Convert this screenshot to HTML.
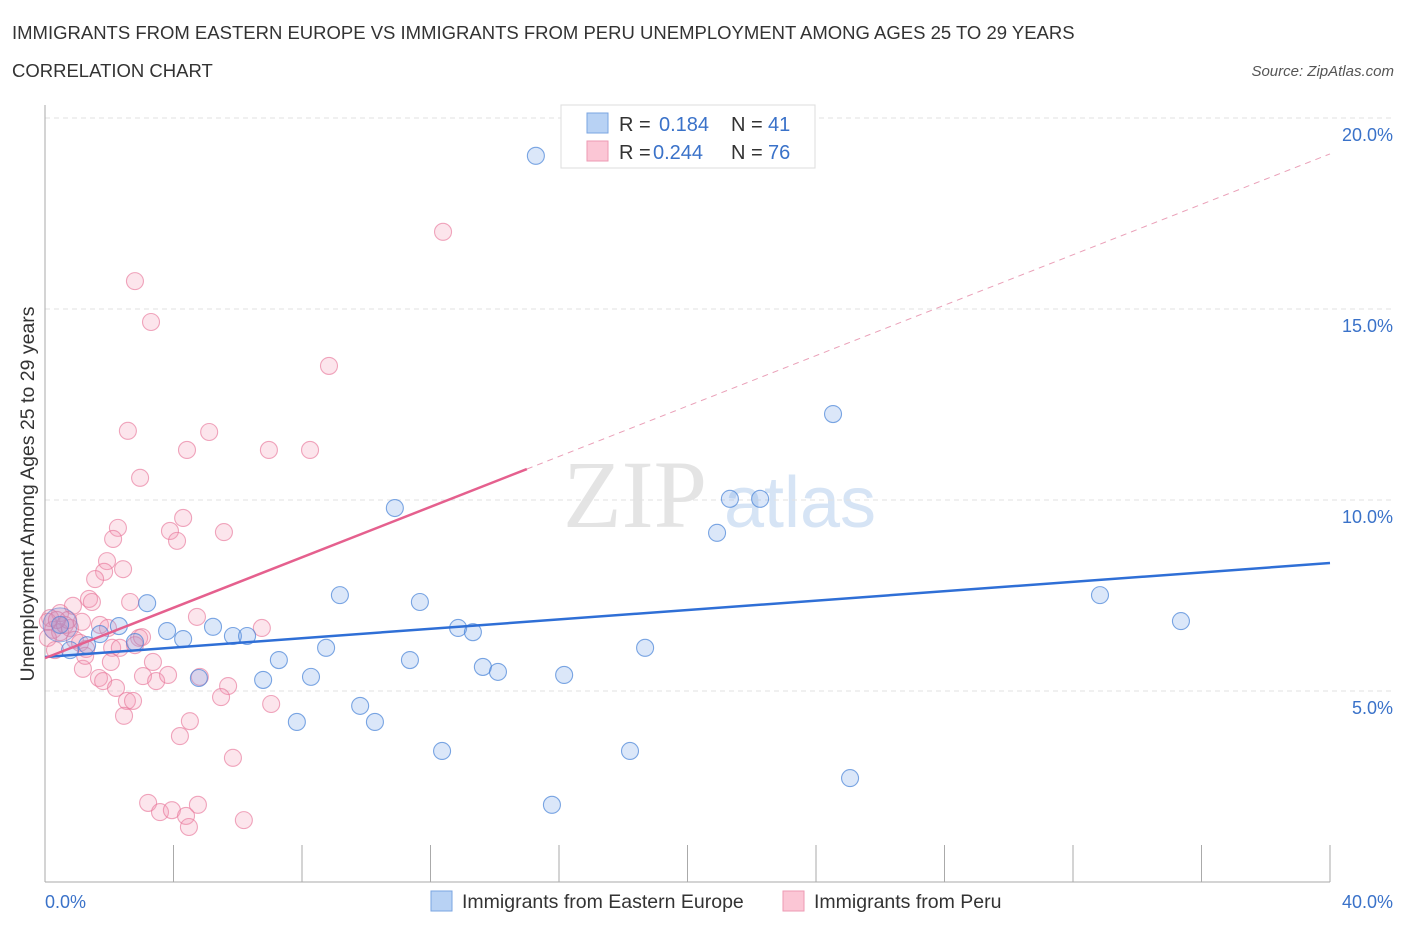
<!DOCTYPE html>
<html><head><meta charset="utf-8"><style>
body{margin:0;background:#fff;font-family:"Liberation Sans",sans-serif;}
svg text{font-family:"Liberation Sans",sans-serif;}
</style></head><body>
<svg id="chart" width="1406" height="930" xmlns="http://www.w3.org/2000/svg">
<text x="12" y="39" font-size="18.5" fill="#333">IMMIGRANTS FROM EASTERN EUROPE VS IMMIGRANTS FROM PERU UNEMPLOYMENT AMONG AGES 25 TO 29 YEARS</text>
<text x="12" y="77" font-size="18.5" fill="#333">CORRELATION CHART</text>
<text x="1394" y="76" font-size="15" fill="#555" font-style="italic" text-anchor="end">Source: ZipAtlas.com</text>
<text x="635" y="527" font-size="96" fill="#e4e4e4" text-anchor="middle" style="font-family:'Liberation Serif',serif">ZIP</text>
<text x="800" y="527" font-size="72" fill="#d6e4f5" text-anchor="middle">atlas</text>
<g id="grid"></g><g id="axes"></g><g id="marks"></g>
<text transform="translate(34,494) rotate(-90)" font-size="19.5" fill="#333" text-anchor="middle">Unemployment Among Ages 25 to 29 years</text>
<g>
<rect x="561" y="105" width="254" height="63" fill="#fff" stroke="#ddd"/>
<rect x="587" y="113" width="21" height="20" fill="#b8d2f4" stroke="#7aa5e2"/>
<rect x="587" y="141" width="21" height="20" fill="#fbc6d5" stroke="#ee9ab3"/>
<text x="619" y="131" font-size="20" fill="#333">R = </text><text x="659" y="131" font-size="20" fill="#3a72c9">0.184</text>
<text x="731" y="131" font-size="20" fill="#333">N = </text><text x="768" y="131" font-size="20" fill="#3a72c9">41</text>
<text x="619" y="159" font-size="20" fill="#333">R = </text><text x="653" y="159" font-size="20" fill="#3a72c9">0.244</text>
<text x="731" y="159" font-size="20" fill="#333">N = </text><text x="768" y="159" font-size="20" fill="#3a72c9">76</text>
</g>
<g>
<rect x="431" y="891" width="21" height="20" fill="#b8d2f4" stroke="#7aa5e2"/>
<text x="462" y="908" font-size="19.5" fill="#333">Immigrants from Eastern Europe</text>
<rect x="783" y="891" width="21" height="20" fill="#fbc6d5" stroke="#ee9ab3"/>
<text x="814" y="908" font-size="19.5" fill="#333">Immigrants from Peru</text>
</g>
</svg>
<script>
const yTicks=[5,10,15,20];
const yTickLabels=["5.0%","10.0%","15.0%","20.0%"];
const blueX=[15.28,24.53,10.89,21.32,22.26,20.92,9.18,11.67,32.84,35.36,3.18,2.30,3.80,4.30,5.23,5.85,6.29,1.71,12.86,13.32,8.75,7.28,11.36,18.68,13.63,14.10,16.16,4.79,6.79,8.28,9.81,7.84,10.27,12.36,18.21,25.06,15.78,0.78,0.47,1.31,2.80];
const blueY=[19.01,12.25,9.79,10.03,10.03,9.14,7.51,7.33,7.51,6.83,7.30,6.70,6.57,6.36,6.68,6.44,6.44,6.49,6.65,6.54,6.13,5.81,5.81,6.13,5.63,5.50,5.42,5.34,5.29,5.37,4.61,4.19,4.19,3.43,3.43,2.72,2.02,6.07,6.73,6.20,6.28];
const pinkX=[12.39,2.80,3.30,8.84,2.58,5.11,4.42,6.97,8.25,2.96,4.30,3.89,5.57,2.27,2.12,4.11,1.93,1.84,2.43,1.56,1.37,2.65,1.46,0.87,0.47,0.16,0.25,0.47,0.62,0.78,0.09,0.93,1.09,1.28,1.71,1.96,2.09,2.93,2.80,3.02,6.75,4.73,3.36,2.05,1.18,1.68,1.81,2.21,3.05,3.46,3.83,4.82,5.70,5.48,7.04,2.55,2.74,2.46,4.51,4.20,5.85,3.21,3.58,3.95,4.76,4.39,4.48,6.19,0.31,0.09,2.33,1.15,0.72,0.37,1.25];
const pinkY=[17.02,15.73,14.66,13.51,11.81,11.78,11.31,11.31,11.31,10.58,9.53,9.19,9.16,9.27,8.98,8.93,8.40,8.12,8.19,7.93,7.41,7.33,7.33,7.23,7.04,6.91,6.60,6.54,6.73,6.65,6.39,6.34,6.26,6.10,6.73,6.65,6.13,6.39,6.20,6.41,6.65,6.94,5.76,5.76,5.58,5.34,5.26,5.08,5.39,5.26,5.42,5.37,5.13,4.84,4.66,4.74,4.74,4.35,4.21,3.82,3.25,2.07,1.83,1.88,2.02,1.73,1.44,1.62,6.07,6.81,6.13,6.81,6.86,6.86,5.92];
const blueTrend=[5.89,8.35];
const pinkTrend=[5.86,19.06];
const pinkSolidEnd=15;
const NS="http://www.w3.org/2000/svg";
const X=v=>45+v*32.125, Y=v=>882-v*38.2;
function mk(tag,attrs,parent){const e=document.createElementNS(NS,tag);for(const k in attrs)e.setAttribute(k,attrs[k]);parent.appendChild(e);return e;}
const grid=document.getElementById('grid'),axes=document.getElementById('axes'),marks=document.getElementById('marks');
yTicks.forEach((t,i)=>{
 const l=mk('line',{x1:45,x2:1395,y1:Y(t),y2:Y(t),stroke:'#e2e2e2','stroke-dasharray':'5,4'},grid);
 
 
 const tx=mk('text',{x:1393,y:Y(t)+23,'font-size':18,fill:'#3a72c9','text-anchor':'end'},axes);
 tx.textContent=yTickLabels[i];
 
 
});
const yax=mk('line',{x1:45,x2:45,y1:105,y2:882,stroke:'#aaa'},axes);


const xax=mk('line',{x1:45,x2:1330,y1:882,y2:882,stroke:'#aaa'},axes);


for(let v=4;v<=40;v+=4){const t=mk('line',{x1:X(v),x2:X(v),y1:845,y2:882,stroke:'#aaa'},axes);
 
 }
const xl0=mk('text',{x:45,y:908,'font-size':18,fill:'#3a72c9'},axes);xl0.textContent='0.0%';


const xl1=mk('text',{x:1393,y:908,'font-size':18,fill:'#3a72c9','text-anchor':'end'},axes);xl1.textContent='40.0%';


function pts(xs,ys,fill,stroke,name){xs.forEach((x,i)=>{
 const c=mk('circle',{cx:X(x),cy:Y(ys[i]),r:8.5,fill:fill,stroke:stroke,'stroke-width':1.1},marks);
 
 });}
pts(pinkX,pinkY,'rgba(245,150,180,0.25)','rgba(232,120,155,0.65)','peru-point');
pts(blueX,blueY,'rgba(110,160,230,0.25)','rgba(70,130,215,0.7)','eastern-europe-point');
const big=mk('circle',{cx:X(0.47),cy:Y(6.73),r:17,fill:'rgba(150,130,200,0.25)',stroke:'rgba(90,130,210,0.6)'},marks);


const bt=mk('line',{x1:X(0),y1:Y(blueTrend[0]),x2:X(40),y2:Y(blueTrend[1]),stroke:'#2f6fd6','stroke-width':2.5},marks);


const pAt=v=>pinkTrend[0]+(pinkTrend[1]-pinkTrend[0])*v/40;
const ps=mk('line',{x1:X(0),y1:Y(pAt(0)),x2:X(pinkSolidEnd),y2:Y(pAt(pinkSolidEnd)),stroke:'#e5608e','stroke-width':2.5},marks);


const pd=mk('line',{x1:X(pinkSolidEnd),y1:Y(pAt(pinkSolidEnd)),x2:X(40),y2:Y(pAt(40)),stroke:'#eaa0b8','stroke-width':1,'stroke-dasharray':'6,5'},marks);


</script>
</body></html>
